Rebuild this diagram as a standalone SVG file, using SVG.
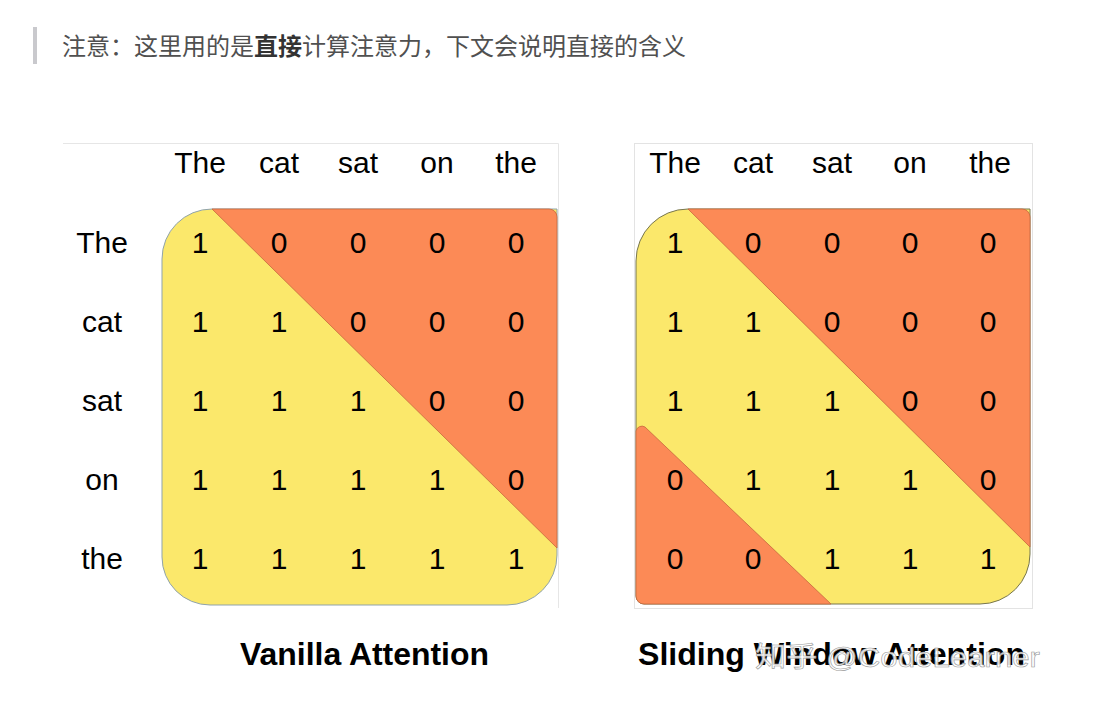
<svg xmlns="http://www.w3.org/2000/svg" width="1093" height="714" viewBox="0 0 1093 714">
<style>
.note{font-family:"Noto Sans CJK SC","Noto Sans",sans-serif;font-size:24px;fill:#505050}
.note .b{font-weight:bold;fill:#333}
.t{font-family:"Liberation Sans",Arial,sans-serif;font-size:30px;fill:#000;text-anchor:middle}
.title{font-family:"Liberation Sans",Arial,sans-serif;font-size:31px;font-weight:bold;fill:#000;text-anchor:middle}
.yel{fill:#fbe86b}
.org{fill:#fc8a56;stroke:#c5683e;stroke-width:0.8}
.wm{font-family:"Liberation Sans","Noto Sans CJK SC",sans-serif;font-size:28px;fill:#fff;fill-opacity:0.9;stroke:#9a9a9a;stroke-width:0.6}
</style>
<rect width="1093" height="714" fill="#fff"/>
<g id="note">
<rect x="33" y="27" width="4" height="37" fill="#c9c9cd"/>
<text class="note" x="62" y="55">注意：这里用的是<tspan class="b">直接</tspan>计算注意力，下文会说明直接的含义</text>
</g>
<g id="vanilla">
<path d="M63,143.5 H558.5 V608" fill="none" stroke="#e6e6e6" stroke-width="1"/>
<path class="yel" d="M212,209 H557 V555 A50,50 0 0 1 507,605 H210 A48,48 0 0 1 162,557 V259 A50,50 0 0 1 212,209 Z" stroke="#8fa3ad" stroke-width="1"/>
<path class="org" d="M212,209 H549 A8,8 0 0 1 557,217 V548 Z"/>
<g class="t">
<text x="200" y="173">The</text><text x="279" y="173">cat</text><text x="358" y="173">sat</text><text x="437" y="173">on</text><text x="516" y="173">the</text>
<text x="102" y="253">The</text><text x="102" y="332">cat</text><text x="102" y="411">sat</text><text x="102" y="490">on</text><text x="102" y="569">the</text>
<text x="200" y="253">1</text><text x="279" y="253">0</text><text x="358" y="253">0</text><text x="437" y="253">0</text><text x="516" y="253">0</text>
<text x="200" y="332">1</text><text x="279" y="332">1</text><text x="358" y="332">0</text><text x="437" y="332">0</text><text x="516" y="332">0</text>
<text x="200" y="411">1</text><text x="279" y="411">1</text><text x="358" y="411">1</text><text x="437" y="411">0</text><text x="516" y="411">0</text>
<text x="200" y="490">1</text><text x="279" y="490">1</text><text x="358" y="490">1</text><text x="437" y="490">1</text><text x="516" y="490">0</text>
<text x="200" y="569">1</text><text x="279" y="569">1</text><text x="358" y="569">1</text><text x="437" y="569">1</text><text x="516" y="569">1</text>
</g>
<text class="title" x="364.5" y="665" textLength="249" lengthAdjust="spacingAndGlyphs">Vanilla Attention</text>
</g>
<g id="sliding">
<rect x="634.5" y="143.5" width="398" height="465" fill="none" stroke="#e3e3e3" stroke-width="1"/>
<path class="yel" d="M688,209 H1030 V554 A50,50 0 0 1 980,604 H644 A8,8 0 0 1 636,596 V261 A52,52 0 0 1 688,209 Z" stroke="#77764f" stroke-width="1"/>
<path class="org" d="M688,209 H1022 A8,8 0 0 1 1030,217 V547 Z"/>
<path class="org" d="M636,431 A6,6 0 0 1 645,427 L831,604 H644 A8,8 0 0 1 636,596 Z"/>
<g class="t">
<text x="675" y="173">The</text><text x="753" y="173">cat</text><text x="832" y="173">sat</text><text x="910" y="173">on</text><text x="990" y="173">the</text>
<text x="675" y="253">1</text><text x="753" y="253">0</text><text x="832" y="253">0</text><text x="910" y="253">0</text><text x="988" y="253">0</text>
<text x="675" y="332">1</text><text x="753" y="332">1</text><text x="832" y="332">0</text><text x="910" y="332">0</text><text x="988" y="332">0</text>
<text x="675" y="411">1</text><text x="753" y="411">1</text><text x="832" y="411">1</text><text x="910" y="411">0</text><text x="988" y="411">0</text>
<text x="675" y="490">0</text><text x="753" y="490">1</text><text x="832" y="490">1</text><text x="910" y="490">1</text><text x="988" y="490">0</text>
<text x="675" y="569">0</text><text x="753" y="569">0</text><text x="832" y="569">1</text><text x="910" y="569">1</text><text x="988" y="569">1</text>
</g>
<text class="title" x="831.5" y="665" textLength="387" lengthAdjust="spacingAndGlyphs">Sliding Window Attention</text>
</g>
<text class="wm" x="755" y="667" textLength="285" lengthAdjust="spacingAndGlyphs">知乎 @CodeLearner</text>
</svg>
